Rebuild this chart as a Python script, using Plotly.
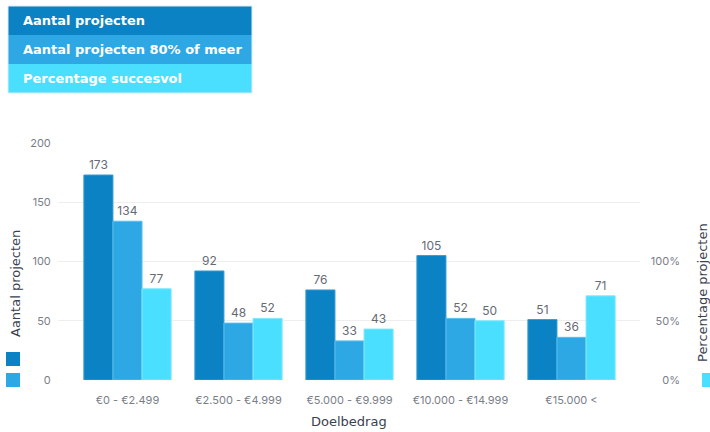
import plotly.graph_objects as go

W, H = 710, 432

categories = ["€0 - €2.499", "€2.500 - €4.999", "€5.000 - €9.999", "€10.000 - €14.999", "€15.000 <"]
aantal_projecten = [173, 92, 76, 105, 51]
aantal_80_procent = [134, 48, 33, 52, 36]
percentage_succesvol = [77, 52, 43, 50, 71]

series_names = ["Aantal projecten", "Aantal projecten 80% of meer", "Percentage succesvol"]
colors = ["#0A82C4", "#2EA8E5", "#4BDFFF"]
edge_colors = ["#3A9BD2", "#5BBDEC", "#7FE8FF"]

left_ticks = [0, 50, 100, 150, 200]
right_ticks = [0, 50, 100]
right_tick_text = ["0%", "50%", "100%"]


def px(x):
    return x / W


def py(y):
    return 1 - y / H


bar_w = 0.262
offsets = [-1.5 * bar_w, -0.5 * bar_w, 0.5 * bar_w]
values = [aantal_projecten, aantal_80_procent, percentage_succesvol]
axes = ["y", "y", "y2"]

fig = go.Figure()
for i in range(3):
    fig.add_trace(go.Bar(
        x=categories,
        y=values[i],
        name=series_names[i],
        yaxis=axes[i],
        width=bar_w,
        offset=offsets[i],
        marker=dict(color=colors[i], line=dict(color=edge_colors[i], width=1)),
        text=[str(v) for v in values[i]],
        textposition="outside",
        textfont=dict(family="Inter, Lato, sans-serif", size=12, color="#666a75"),
        cliponaxis=False,
        hoverinfo="skip",
    ))

shapes = []
annotations = []

# Stacked legend block in the top-left corner
rows = [(6, 35), (35, 64), (64, 93)]
for i, (y0, y1) in enumerate(rows):
    shapes.append(dict(type="rect", xref="paper", yref="paper",
                       x0=px(8), x1=px(252), y0=py(y1), y1=py(y0),
                       fillcolor=colors[i], line=dict(width=0), layer="above"))
    annotations.append(dict(x=px(21), y=py((y0 + y1) / 2), xref="paper", yref="paper",
                            text="<b>" + series_names[i] + "</b>", showarrow=False,
                            xanchor="left", yanchor="middle",
                            font=dict(family="DejaVu Sans, Verdana, sans-serif", size=13, color="white")))
shapes.append(dict(type="rect", xref="paper", yref="paper",
                   x0=px(8), x1=px(252), y0=py(93), y1=py(6),
                   fillcolor="rgba(0,0,0,0)", line=dict(width=1, color="#dcecf5"), layer="above"))

# Colour keys beside the axis titles
shapes.append(dict(type="rect", xref="paper", yref="paper", x0=px(6), x1=px(20),
                   y0=py(366), y1=py(352), fillcolor=colors[0], line=dict(width=0)))
shapes.append(dict(type="rect", xref="paper", yref="paper", x0=px(6), x1=px(20),
                   y0=py(387), y1=py(373), fillcolor=colors[1], line=dict(width=0)))
shapes.append(dict(type="rect", xref="paper", yref="paper", x0=px(702), x1=px(716),
                   y0=py(387), y1=py(373), fillcolor=colors[2], line=dict(width=0)))

title_font = dict(family="DejaVu Sans, Verdana, sans-serif", size=13, color="#3a4152")
annotations.append(dict(x=px(15), y=py(284), xref="paper", yref="paper",
                        text="Aantal projecten", textangle=-90, showarrow=False,
                        xanchor="center", yanchor="middle", font=title_font))
annotations.append(dict(x=px(702), y=py(293), xref="paper", yref="paper",
                        text="Percentage projecten", textangle=-90, showarrow=False,
                        xanchor="center", yanchor="middle", font=title_font))
annotations.append(dict(x=px(349), y=py(421), xref="paper", yref="paper",
                        text="Doelbedrag", showarrow=False,
                        xanchor="center", yanchor="middle", font=title_font))

tick_font = dict(family="Inter, Lato, sans-serif", size=11, color="#7a7e88")

fig.update_layout(
    width=W, height=H,
    margin=dict(l=0, r=0, t=0, b=0),
    paper_bgcolor="white", plot_bgcolor="white",
    showlegend=False,
    bargap=0.215,
    shapes=shapes,
    annotations=annotations,
    xaxis=dict(
        type="category",
        categoryorder="array", categoryarray=categories,
        domain=[px(58), px(640)],
        range=[-0.626, 4.617],
        showgrid=False, showline=False, zeroline=False,
        ticks="outside", ticklen=10, tickcolor="rgba(0,0,0,0)",
        tickfont=tick_font, automargin=False,
    ),
    yaxis=dict(
        domain=[py(380), py(143)],
        range=[0, 200],
        tickvals=left_ticks,
        showgrid=True, gridcolor="#eeeeee", gridwidth=1,
        zeroline=False, showline=False,
        ticks="outside", ticklen=4, tickcolor="rgba(0,0,0,0)",
        tickfont=tick_font, automargin=False,
    ),
    yaxis2=dict(
        overlaying="y",
        anchor="free",
        position=px(683),
        side="right",
        range=[0, 200],
        tickvals=right_ticks, ticktext=right_tick_text,
        ticklabelposition="inside",
        ticklabeloverflow="allow",
        showgrid=False, zeroline=False, showline=False,
        ticks="",
        tickfont=tick_font, automargin=False,
    ),
)

fig.write_html("out.html")
